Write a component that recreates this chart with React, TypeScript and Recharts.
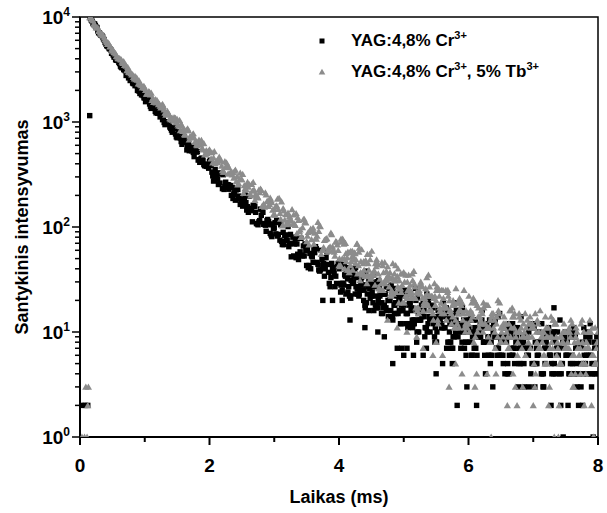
import React from 'react';
import { ScatterChart, Scatter, XAxis, YAxis, ReferenceArea, Label } from 'recharts';

const FONT = '"Liberation Sans", Arial, Helvetica, sans-serif';
const BLACK = '#000000';
const GREY = '#8c8c8c';

// Readings of the two decay curves. Each array is sampled at start + i * STEP (ms).
const STEP = 0.05;
const MAIN_START = 0.15; // 0.15 ... 8.00
const OFF25_START = 0.175; // 0.175 ... 7.975
const OFF125_START = 1.5125; // 1.5125 ... 7.9625
const OFF375_START = 2.0375; // 2.0375 ... 7.9875
const EARLY125_START = 0.1625; // 0.1625 ... 1.4625
const EARLY375_START = 0.1875; // 0.1875 ... 1.9875
const TAILA_START = 4.00625; // 4.00625 ... 7.95625
const TAILB_START = 4.03125; // 4.03125 ... 7.98125

// ---------- YAG:4,8% Cr3+ (black squares) ----------
const blackMain = [
  9950, 8720, 7990, 7020, 6470, 5530, 5010, 4560, 3920, 3690,
  3280, 3075, 2630, 2500, 2218, 2128, 1812, 1698, 1645, 1348,
  1362, 1213, 1175, 990, 980, 873, 875, 708, 705, 710,
  542, 585, 513, 517, 413, 431, 378, 420, 307, 315,
  328, 232, 267, 229, 238, 180, 197, 167, 201, 138,
  147, 158, 105, 129, 108, 118, 84, 98, 82, 105,
  68, 75, 85, 53, 69, 58, 66, 43, 56, 46,
  62, 38, 43, 51, 29, 41, 34, 40, 25, 34,
  27, 40, 23, 27, 33, 18, 27, 22, 27, 17,
  23, 18, 27, 16, 18, 23, 12, 18, 15, 19,
  12, 16, 13, 19, 11, 13, 17, 8, 13, 11,
  14, 8, 12, 10, 15, 8, 10, 13, 6, 11,
  9, 12, 6, 9, 8, 13, 6, 8, 11, 4,
  9, 7, 10, 5, 8, 6, 11, 5, 7, 10,
  3, 8, 6, 9, 4, 7, 5, 10, 4, 6,
  9, 2, 7, 5, 8, 3, 7, 5,
];
const blackOff25 = [
  9340, 8600, 7310, 6700, 6040, 5280, 4865, 4160, 3870, 3400,
  3155, 2945, 2483, 2318, 2225, 1870, 1785, 1688, 1484, 1488,
  1221, 1207, 1053, 1006, 967, 799, 769, 801, 613, 639,
  621, 532, 568, 434, 452, 383, 377, 386, 277, 285,
  322, 228, 249, 247, 205, 233, 164, 183, 145, 151,
  161, 108, 115, 138, 91, 105, 107, 86, 111, 68,
  84, 65, 70, 77, 49, 54, 69, 41, 53, 57,
  44, 60, 34, 44, 33, 36, 42, 24, 28, 41,
  22, 30, 33, 25, 36, 19, 26, 19, 22, 26,
  15, 17, 26, 14, 19, 21, 16, 23, 12, 17,
  13, 15, 18, 9, 12, 17, 9, 13, 14, 11,
  16, 8, 12, 2, 11, 13, 3, 8, 13, 2,
  9, 11, 8, 13, 3, 9, 6, 8, 11, 4,
  6, 11, 3, 8, 9, 6, 12, 3, 8, 4,
  7, 9, 2, 5, 10, 2, 7, 8, 5, 11,
  3, 7, 4, 6, 9, 1, 4,
];
const blackOff125 = [
  759, 651, 727, 581, 585, 468, 523, 443, 393, 396,
  433, 274, 315, 262, 315, 238, 249, 187, 226, 185,
  158, 171, 197, 112, 138, 112, 146, 104, 113, 81,
  110, 85, 73, 83, 101, 52, 69, 55, 78, 53,
  61, 40, 61, 46, 39, 45, 58, 27, 38, 29,
  47, 29, 36, 22, 37, 27, 23, 28, 38, 16,
  24, 18, 31, 19, 23, 14, 24, 18, 15, 18,
  25, 11, 16, 12, 21, 13, 16, 10, 17, 12,
  10, 13, 19, 7, 12, 9, 16, 10, 12, 6,
  13, 9, 7, 10, 16, 4, 9, 6, 13, 7,
  9, 4, 11, 7, 5, 8, 14, 3, 7, 4,
  11, 6, 8, 3, 10, 6, 4, 7, 13, 1,
  6, 4, 10, 5, 7, 2, 9, 6, 4, 7,
];
const blackOff375 = [
  333, 353, 254, 321, 243, 253, 200, 212, 228, 167,
  184, 156, 143, 157, 107, 148, 106, 115, 87, 97,
  116, 75, 89, 75, 69, 80, 51, 78, 53, 60,
  43, 52, 65, 39, 49, 40, 37, 45, 27, 45,
  29, 35, 24, 31, 40, 23, 30, 25, 23, 29,
  16, 30, 19, 23, 16, 20, 26, 15, 20, 16,
  15, 19, 11, 20, 13, 16, 11, 14, 18, 11,
  14, 12, 11, 14, 7, 15, 9, 12, 7, 10,
  14, 7, 11, 9, 8, 11, 5, 12, 7, 9,
  5, 8, 12, 6, 9, 7, 7, 9, 3, 11,
  5, 8, 4, 7, 11, 4, 8, 6, 5, 9,
  2, 10, 4, 7, 3, 6, 10, 4, 8, 5,
];
const blackEarly125 = [
  9750, 8525, 7940, 6830, 6200, 5330, 4965, 4350, 3875, 3600,
  3415, 2775, 2676, 2352, 2298, 1965, 1851, 1562, 1613, 1406,
  1263, 1222, 1208, 944, 954, 837, 864,
];
const blackEarly375 = [
  9115, 8310, 7085, 6655, 5722, 5200, 4508, 4165, 3850, 3322,
  3137, 2783, 2515, 2368, 1998, 1979, 1700, 1631, 1405, 1369,
  1345, 1118, 1098, 978, 896, 873, 722, 800, 640, 644,
  533, 543, 560, 438, 450, 395, 363,
];
const blackTailA = [
  45, 29, 23, 35, 29, 41, 22, 28, 17, 30,
  22, 30, 20, 15, 23, 20, 28, 15, 19, 12,
  22, 15, 23, 13, 10, 17, 14, 23, 10, 14,
  8, 16, 11, 17, 10, 7, 13, 11, 17, 8,
  11, 6, 13, 9, 13, 8, 6, 11, 9, 14,
  6, 9, 5, 10, 7, 11, 7, 5, 9, 7,
  12, 5, 8, 4, 9, 6, 10, 6, 4, 8,
  6, 10, 5, 7, 4, 8, 5, 9, 5, 4,
];
const blackTailB = [
  28, 44, 32, 21, 34, 26, 34, 20, 28, 21,
  35, 17, 22, 17, 27, 20, 13, 22, 16, 22,
  12, 18, 13, 26, 10, 14, 11, 20, 14, 8,
  16, 11, 16, 8, 13, 9, 19, 7, 10, 8,
  15, 10, 6, 12, 8, 12, 6, 10, 7, 15,
  6, 8, 6, 12, 8, 5, 9, 7, 10, 5,
  8, 6, 12, 5, 7, 5, 10, 7, 4, 8,
  6, 9, 4, 7, 5, 11, 4, 6, 5, 9,
];
// isolated readings (before the pulse and stray low / high counts)
const blackExtraT = [
  0.03, 0.08, 0.12, 0.15, 7.32, 7.88,
  3.75, 3.9, 4.05, 4.17, 4.4, 4.6, 4.7, 4.83, 4.9, 4.97,
  5.0, 5.05, 5.15, 5.2, 5.3, 5.35, 5.5, 5.6, 5.75,
];
const blackExtraV = [
  2, 2, 2, 1150, 17, 12,
  20, 20, 20, 13, 11, 10, 9, 5, 7, 7,
  6, 7, 6, 8, 6, 7, 4, 5, 5,
];

// ---------- YAG:4,8% Cr3+, 5% Tb3+ (grey triangles) ----------
const greyMain = [
  9890, 9215, 7925, 7350, 6700, 5925, 5520, 4750, 4483, 4017,
  3733, 3516, 2992, 2819, 2730, 2322, 2233, 2113, 1871, 1889,
  1560, 1553, 1365, 1312, 1270, 1056, 1024, 1062, 833, 864,
  842, 733, 776, 609, 632, 544, 536, 544, 410, 419,
  465, 345, 372, 370, 315, 350, 260, 284, 233, 241,
  255, 180, 190, 224, 155, 176, 180, 148, 185, 119,
  143, 112, 120, 131, 87, 94, 118, 73, 91, 98,
  77, 103, 61, 77, 59, 65, 73, 43, 50, 70,
  39, 52, 56, 43, 61, 34, 45, 33, 38, 44,
  25, 30, 42, 23, 31, 34, 26, 37, 21, 28,
  21, 24, 28, 16, 19, 27, 15, 20, 22, 17,
  25, 3, 18, 13, 16, 19, 10, 12, 19, 3,
  14, 16, 12, 18, 1, 13, 9, 11, 14, 2,
  9, 14, 2, 10, 12, 9, 14, 2, 10, 7,
  9, 11, 3, 7, 12, 2, 8, 10, 7, 12,
  4, 8, 5, 7, 10, 2, 5, 10,
];
const greyOff25 = [
  9520, 8420, 7930, 6900, 6345, 5515, 5200, 4630, 4196, 3935,
  3776, 3096, 3013, 2674, 2642, 2288, 2171, 1848, 1920, 1686,
  1524, 1486, 1479, 1164, 1183, 1046, 1087, 916, 921, 753,
  832, 717, 643, 646, 670, 489, 523, 447, 525, 411,
  426, 335, 392, 329, 293, 303, 327, 210, 253, 209,
  267, 199, 213, 159, 203, 165, 145, 158, 188, 103,
  132, 107, 147, 104, 116, 81, 112, 89, 76, 88,
  111, 55, 75, 59, 88, 58, 68, 43, 69, 51,
  43, 52, 69, 31, 45, 34, 55, 35, 42, 26,
  43, 32, 27, 33, 43, 19, 28, 22, 35, 23,
  27, 17, 28, 21, 18, 22, 29, 13, 19, 15,
  24, 16, 19, 12, 20, 15, 12, 15, 21, 4,
  14, 10, 18, 11, 14, 4, 15, 11, 8, 12,
  17, 3, 10, 7, 15, 8, 11, 3, 12, 9,
  6, 9, 14, 1, 8, 5, 12, 7, 9, 3,
  10, 7, 5, 8, 13, 1, 7,
];
const greyOff125 = [
  943, 957, 759, 864, 707, 711, 599, 609, 625, 501,
  522, 458, 424, 445, 335, 410, 322, 332, 272, 286,
  319, 229, 255, 221, 205, 225, 158, 212, 158, 171,
  130, 148, 174, 117, 136, 115, 107, 123, 80, 119,
  82, 96, 69, 82, 101, 64, 78, 65, 61, 72,
  42, 75, 47, 57, 39, 49, 63, 37, 48, 39,
  36, 45, 26, 46, 29, 35, 25, 31, 40, 24,
  30, 25, 24, 29, 17, 30, 19, 23, 16, 21,
  27, 16, 21, 17, 16, 20, 11, 21, 13, 16,
  10, 14, 19, 11, 15, 12, 11, 15, 7, 16,
  10, 12, 7, 11, 15, 8, 11, 10, 9, 12,
  5, 13, 7, 10, 5, 9, 13, 6, 9, 8,
  7, 10, 3, 11, 6, 8, 4, 7, 11, 5,
];
const greyOff375 = [
  512, 402, 434, 381, 422, 322, 329, 341, 253, 284,
  249, 267, 199, 227, 196, 231, 166, 175, 189, 131,
  160, 135, 150, 106, 127, 107, 135, 91, 99, 110,
  68, 93, 78, 91, 60, 76, 63, 85, 53, 60,
  72, 40, 58, 47, 57, 36, 47, 39, 55, 32,
  38, 46, 25, 37, 31, 37, 23, 31, 26, 36,
  22, 26, 31, 17, 25, 21, 26, 16, 22, 18,
  26, 15, 18, 22, 12, 18, 15, 18, 11, 15,
  13, 20, 10, 13, 17, 4, 13, 11, 14, 8,
  12, 10, 16, 4, 10, 14, 3, 11, 9, 12,
  4, 10, 8, 14, 2, 9, 12, 1, 9, 7,
  10, 4, 8, 7, 12, 2, 7, 10, 1, 8,
];
const greyEarly125 = [
  9875, 8588, 7960, 7080, 6596, 5709, 5230, 4835, 4235, 4044,
  3622, 3425, 2957, 2836, 2539, 2470, 2117, 2005, 1956, 1614,
  1642, 1473, 1437, 1218, 1214, 1090, 1099,
];
const greyEarly375 = [
  9455, 8265, 7330, 6853, 6111, 5680, 4888, 4562, 4041, 3924,
  3466, 3327, 2895, 2580, 2511, 2268, 2191, 1853, 1820, 1545,
  1614, 1419, 1413, 1216, 1083, 1101, 995, 1041, 817, 830,
  679, 757, 652, 677, 564, 497, 531,
];
const greyTailA = [
  50, 77, 56, 37, 59, 45, 58, 35, 47, 35,
  59, 28, 36, 29, 46, 34, 22, 36, 27, 36,
  19, 30, 21, 38, 16, 23, 18, 33, 22, 13,
  25, 17, 25, 13, 20, 14, 26, 11, 15, 12,
  22, 15, 9, 17, 12, 18, 9, 14, 10, 20,
  8, 11, 9, 16, 11, 6, 13, 9, 13, 7,
  11, 8, 16, 6, 9, 7, 13, 9, 5, 10,
  7, 11, 6, 9, 6, 13, 5, 7, 6, 11,
];
const greyTailB = [
  77, 50, 39, 59, 49, 69, 37, 47, 29, 49,
  36, 49, 32, 25, 38, 32, 45, 24, 31, 19,
  35, 23, 36, 21, 15, 27, 22, 35, 16, 22,
  12, 25, 17, 25, 15, 11, 19, 16, 25, 11,
  16, 8, 18, 12, 19, 11, 8, 15, 12, 19,
  9, 12, 7, 14, 9, 15, 9, 6, 12, 9,
  15, 7, 10, 5, 11, 8, 12, 7, 5, 10,
  8, 13, 6, 8, 4, 10, 7, 10, 6, 5,
];
const greyExtraT = [
  0.03, 0.07, 0.11, 0.09, 0.13, 0.12,
  4.75, 4.9, 5.05, 5.2, 5.3, 5.45, 5.5, 5.6, 5.8, 5.9,
];
const greyExtraV = [
  1, 1, 1, 3, 3, 2,
  13, 11, 10, 9, 7, 6, 8, 6, 5, 4,
];

const xTicks = [0, 1, 2, 3, 4, 5, 6, 7, 8];
const xLabels = [0, 2, 4, 6, 8];
const yTicks = [
  1, 2, 3, 4, 5, 6, 7, 8, 9,
  10, 20, 30, 40, 50, 60, 70, 80, 90,
  100, 200, 300, 400, 500, 600, 700, 800, 900,
  1000, 2000, 3000, 4000, 5000, 6000, 7000, 8000, 9000,
  10000,
];
const yLabels = [1, 10, 100, 1000, 10000];

const series = (start: number, vals: number[]) =>
  vals.map((v, i) => ({ t: Math.round((start + i * STEP) * 100000) / 100000, v }));
const pairs = (ts: number[], vs: number[]) => ts.map((t, i) => ({ t, v: vs[i] }));

const blackData = [
  ...pairs(blackExtraT, blackExtraV),
  ...series(MAIN_START, blackMain),
  ...series(OFF25_START, blackOff25),
  ...series(OFF125_START, blackOff125),
  ...series(OFF375_START, blackOff375),
  ...series(EARLY125_START, blackEarly125),
  ...series(EARLY375_START, blackEarly375),
  ...series(TAILA_START, blackTailA),
  ...series(TAILB_START, blackTailB),
];
const greyData = [
  ...pairs(greyExtraT, greyExtraV),
  ...series(MAIN_START, greyMain),
  ...series(OFF25_START, greyOff25),
  ...series(OFF125_START, greyOff125),
  ...series(OFF375_START, greyOff375),
  ...series(EARLY125_START, greyEarly125),
  ...series(EARLY375_START, greyEarly375),
  ...series(TAILA_START, greyTailA),
  ...series(TAILB_START, greyTailB),
];

const Square = (p: any) => (
  <rect x={p.cx - 2.7} y={p.cy - 2.7} width={5.4} height={5.4} fill={BLACK} />
);
const Triangle = (p: any) => (
  <polygon
    points={`${p.cx},${p.cy - 3.4} ${p.cx - 3.6},${p.cy + 2.8} ${p.cx + 3.6},${p.cy + 2.8}`}
    fill={GREY}
  />
);

const XTick = (p: any) => {
  const { x, y, payload } = p;
  const v = payload.value;
  const major = xLabels.includes(v);
  return (
    <g>
      <line x1={x} x2={x} y1={y} y2={y + (major ? 8 : 5)} stroke="#000" strokeWidth={2} />
      {major && (
        <text x={x} y={y + 28} textAnchor="middle" dominantBaseline="central"
          fontFamily={FONT} fontWeight="bold" fontSize={19} fill="#000">
          {v}
        </text>
      )}
    </g>
  );
};

const YTick = (p: any) => {
  const { x, y, payload } = p;
  const v = payload.value;
  const major = yLabels.includes(v);
  const exp = Math.round(Math.log10(v));
  return (
    <g>
      <line x1={x} x2={x - (major ? 8 : 5)} y1={y} y2={y} stroke="#000" strokeWidth={1.5} />
      {major && (
        <text x={x - 10} y={y} dy="0.36em" textAnchor="end"
          fontFamily={FONT} fontWeight="bold" fontSize={19} fill="#000">
          10<tspan dy={-8} fontSize={12}>{exp}</tspan>
        </text>
      )}
    </g>
  );
};

const XTitle = (p: any) => {
  const vb = p.viewBox || { x: 80, y: 437, width: 518, height: 76 };
  return (
    <text x={vb.x + vb.width / 2} y={vb.y + 60} textAnchor="middle" dominantBaseline="central"
      fontFamily={FONT} fontWeight="bold" fontSize={18} fill="#000">
      Laikas (ms)
    </text>
  );
};

const YTitle = (p: any) => {
  const vb = p.viewBox || { x: 0, y: 17, width: 80, height: 420 };
  const cx = vb.x + 22;
  const cy = vb.y + vb.height / 2;
  return (
    <text x={cx} y={cy} transform={`rotate(-90 ${cx} ${cy})`} textAnchor="middle"
      dominantBaseline="central" fontFamily={FONT} fontWeight="bold" fontSize={18} fill="#000">
      Santykinis intensyvumas
    </text>
  );
};

const legendText: React.CSSProperties = {
  fontFamily: FONT,
  fontWeight: 'bold',
  fontSize: 17,
  color: '#000',
  whiteSpace: 'nowrap',
  lineHeight: '20px',
};
const supStyle: React.CSSProperties = { fontSize: 11, verticalAlign: 'super', lineHeight: 0 };

export default function App() {
  return (
    <div style={{ position: 'absolute', left: 0, top: 0, width: 607, height: 513, background: '#fff' }}>
      <ScatterChart width={607} height={513} margin={{ top: 17, right: 9, bottom: 0, left: 0 }}>
        <XAxis
          dataKey="t"
          type="number"
          domain={[0, 8]}
          ticks={xTicks}
          interval={0}
          height={76}
          tickSize={0}
          tickMargin={0}
          tickLine={false}
          axisLine={{ stroke: '#000', strokeWidth: 2 }}
          tick={<XTick />}
          allowDataOverflow
        >
          <Label content={<XTitle />} />
        </XAxis>
        <YAxis
          dataKey="v"
          type="number"
          scale="log"
          domain={[1, 10000]}
          ticks={yTicks}
          interval={0}
          width={80}
          tickSize={0}
          tickMargin={0}
          tickLine={false}
          axisLine={{ stroke: '#000', strokeWidth: 2 }}
          tick={<YTick />}
          allowDataOverflow
        >
          <Label content={<YTitle />} />
        </YAxis>
        <Scatter data={blackData} shape={<Square />} isAnimationActive={false} />
        <Scatter data={greyData} shape={<Triangle />} isAnimationActive={false} />
        <ReferenceArea x1={0} x2={8} y1={1} y2={10000} fill="none" fillOpacity={0}
          stroke="#000" strokeWidth={1.5} />
      </ScatterChart>
      <div style={{ position: 'absolute', left: 318, top: 31, display: 'flex', alignItems: 'center' }}>
        <svg width={8} height={8} style={{ marginRight: 25 }}>
          <rect x={1.5} y={1.5} width={5} height={5} fill={BLACK} />
        </svg>
        <span style={legendText}>YAG:4,8% Cr<span style={supStyle}>3+</span></span>
      </div>
      <div style={{ position: 'absolute', left: 318, top: 62, display: 'flex', alignItems: 'center' }}>
        <svg width={8} height={8} style={{ marginRight: 25 }}>
          <polygon points="4,0.8 0.7,6.6 7.3,6.6" fill={GREY} />
        </svg>
        <span style={legendText}>
          YAG:4,8% Cr<span style={supStyle}>3+</span>, 5% Tb<span style={supStyle}>3+</span>
        </span>
      </div>
    </div>
  );
}
